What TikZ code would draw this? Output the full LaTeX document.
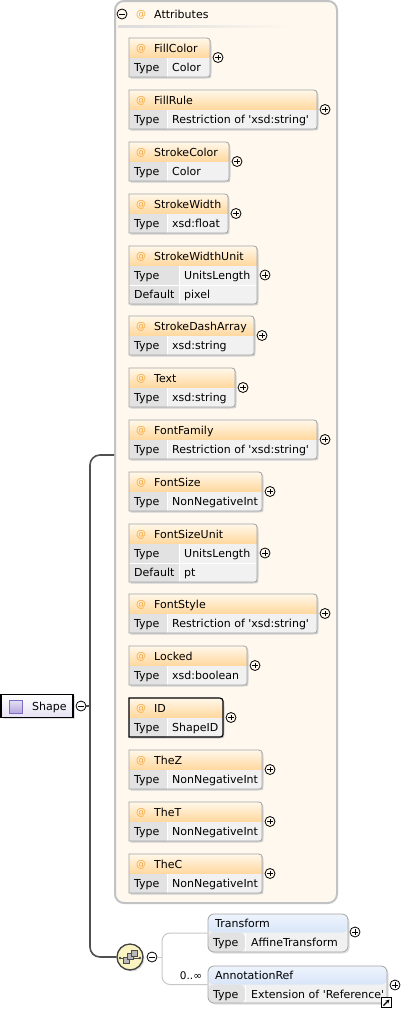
\documentclass[tikz,border=0pt]{standalone}
\usepackage{fontspec}
\setmainfont{DejaVu Sans}
\usetikzlibrary{calc,shadows,arrows.meta}

\definecolor{attrfill}{HTML}{FEF8EE}
\definecolor{attrline}{HTML}{C2C2C2}
\definecolor{hdtop}{HTML}{FFF8EA}
\definecolor{hdbot}{HTML}{FFD79C}
\definecolor{lblcell}{HTML}{E2E2E2}
\definecolor{valcell}{HTML}{F1F1F1}
\definecolor{boxline}{HTML}{A4A4A4}
\definecolor{atsign}{HTML}{F6A83C}
\definecolor{eltop}{HTML}{EEF4FD}
\definecolor{elbot}{HTML}{C2D6F3}
\definecolor{seqfill}{HTML}{FAF4C2}
\definecolor{spinecol}{HTML}{505050}
\definecolor{shapebot}{HTML}{E6E2F3}
\definecolor{shapesq}{HTML}{B4A4DE}
\definecolor{shapesqline}{HTML}{7E6CC0}

% one attribute box: [frame style]{name}{top}{right}{attribute}{type}{default}
\newcommand{\xsdattr}[7][attrframe]{%
  \def\attrh{39}\def\cellx{167}%
  \if\relax\detokenize{#7}\relax\else\def\attrh{58}\def\cellx{179}\fi
  \pgfmathsetmacro\attrb{#3+\attrh}%
  % shadow
  \fill[black!18, xshift=1.5pt, yshift=-1.5pt] (129,#3) -- ({#4-7},#3) .. controls (#4,#3) .. (#4,{#3+7})
    -- (#4,{\attrb-6}) .. controls (#4,\attrb) .. ({#4-6},\attrb) -- (129,\attrb) -- cycle;
  % header
  \shade[top color=hdtop, bottom color=hdbot] (129,#3) -- ({#4-7},#3) .. controls (#4,#3) .. (#4,{#3+7})
    -- (#4,{#3+20}) -- (129,{#3+20}) -- cycle;
  % type / default cells
  \fill[lblcell] (129,{#3+20}) rectangle (\cellx,\attrb);
  \fill[valcell] (\cellx,{#3+20}) -- (#4,{#3+20}) -- (#4,{\attrb-6}) .. controls (#4,\attrb) .. ({#4-6},\attrb)
    -- (\cellx,\attrb) -- cycle;
  \draw[white] (\cellx,{#3+20}) -- (\cellx,\attrb);
  \if\relax\detokenize{#7}\relax\else
    \draw[white] (129,{#3+39}) -- (#4,{#3+39});
  \fi
  % frame
  \draw[#1] (129,#3) -- ({#4-7},#3) .. controls (#4,#3) .. (#4,{#3+7})
    -- (#4,{\attrb-6}) .. controls (#4,\attrb) .. ({#4-6},\attrb) -- (129,\attrb) -- cycle;
  % texts
  \node[atsym] (#2-at) at (141,{#3+13.8}) {@};
  \node[attrtext] (#2) at (151,{#3+14}) {#5};
  \node[attrtext] (#2-type) at (131,{#3+33.5}) {Type};
  \node[attrtext] (#2-val) at ({\cellx+2},{#3+33.5}) {#6};
  \if\relax\detokenize{#7}\relax\else
    \node[attrtext] (#2-deflabel) at (131,{#3+52.5}) {Default};
    \node[attrtext] (#2-def) at ({\cellx+2},{#3+52.5}) {#7};
  \fi
  \node[plusbtn] (#2-plus) at ({#4+8},{#3+\attrh/2}) {};
}

\begin{document}
\begin{tikzpicture}[x=1pt, y=-1pt, font=\fontsize{11}{13}\selectfont,
  attrtext/.style={anchor=base west, inner sep=3pt},
  atsym/.style={anchor=base, inner sep=0pt, text=atsign, font=\fontsize{10}{12}\selectfont},
  attrframe/.style={draw=boxline, line width=0.8pt},
  idframe/.style={draw=black, line width=1.2pt},
  softshadow/.style={drop shadow={opacity=0.25, shadow xshift=1.5pt, shadow yshift=-1.5pt}},
  plusbtn/.style={circle, draw, line width=0.8pt, minimum size=10pt, inner sep=0pt,
    path picture={\draw[line width=0.8pt] ([xshift=-2.6pt]path picture bounding box.center) -- ([xshift=2.6pt]path picture bounding box.center);
      \draw[line width=0.8pt] ([yshift=-2.6pt]path picture bounding box.center) -- ([yshift=2.6pt]path picture bounding box.center);}},
  minusbtn/.style={circle, draw, line width=0.8pt, minimum size=10pt, inner sep=0pt,
    path picture={\draw[line width=0.8pt] ([xshift=-2.6pt]path picture bounding box.center) -- ([xshift=2.6pt]path picture bounding box.center);}},
  elembox/.style={draw=boxline, line width=0.8pt, rounded corners=6pt, inner sep=0pt, fill=valcell, softshadow,
    path picture={\shade[top color=eltop, bottom color=elbot] (path picture bounding box.north west) rectangle ([yshift=-18.5pt]path picture bounding box.north east);
      \fill[lblcell] ([yshift=-18.5pt]path picture bounding box.north west) rectangle ([xshift=37pt]path picture bounding box.south west);
      \draw[white] ([xshift=37pt,yshift=-18.5pt]path picture bounding box.north west) -- ([xshift=37pt]path picture bounding box.south west);}},
  spineline/.style={draw=spinecol, line width=1.6pt},
  bracketline/.style={draw=black!22, line width=1pt}]
\useasboundingbox (0,0) rectangle (403,1009);

% attributes group
\node[draw=attrline, line width=2pt, fill=attrfill, rounded corners=9pt, minimum width=222pt, minimum height=902pt, inner sep=0pt] (attrs) at (226,452) {};
\node[minusbtn] (attrs-minus) at (122,14) {};
\node[atsym] (attrs-at) at (141,17.8) {@};
\node[attrtext] (attrs-title) at (151,18) {Attributes};
\shade[left color=black!14, right color=attrfill] (118,25.5) rectangle (290,27.5);

\xsdattr{fillcolor}{38}{210}{FillColor}{Color}{}
\xsdattr{fillrule}{90}{317}{FillRule}{Restriction of \textquotesingle xsd:string\textquotesingle}{}
\xsdattr{strokecolor}{142}{229}{StrokeColor}{Color}{}
\xsdattr{strokewidth}{194}{228}{StrokeWidth}{xsd:float}{}
\xsdattr{strokewidthunit}{246}{257}{StrokeWidthUnit}{UnitsLength}{pixel}
\xsdattr{strokedasharray}{316}{254}{StrokeDashArray}{xsd:string}{}
\xsdattr{text}{368}{235}{Text}{xsd:string}{}
\xsdattr{fontfamily}{420}{317}{FontFamily}{Restriction of \textquotesingle xsd:string\textquotesingle}{}
\xsdattr{fontsize}{472}{262}{FontSize}{NonNegativeInt}{}
\xsdattr{fontsizeunit}{524}{257}{FontSizeUnit}{UnitsLength}{pt}
\xsdattr{fontstyle}{594}{317}{FontStyle}{Restriction of \textquotesingle xsd:string\textquotesingle}{}
\xsdattr{locked}{646}{247}{Locked}{xsd:boolean}{}
% required attribute
\xsdattr[idframe]{id}{698}{223}{ID}{ShapeID}{}
\xsdattr{thez}{750}{262}{TheZ}{NonNegativeInt}{}
\xsdattr{thet}{802}{262}{TheT}{NonNegativeInt}{}
\xsdattr{thec}{854}{262}{TheC}{NonNegativeInt}{}

% Shape element
\node[draw, line width=1.2pt, top color=white, bottom color=shapebot, minimum width=72pt, minimum height=23pt, inner sep=0pt, softshadow] (shape) at (37,706) {};
\node[draw=shapesqline, line width=0.6pt, top color=shapesq!35, bottom color=shapesq, minimum size=13pt, inner sep=0pt] (shape-icon) at (15.5,707) {};
\node[attrtext] (shape-label) at (29,710) {Shape};
\node[minusbtn] (shape-minus) at (81,706) {};
\coordinate (spine) at (90,706);

% sequence compositor
\node[circle, draw=black!75, line width=1.3pt, fill=seqfill, minimum size=26pt, inner sep=0pt, softshadow] (seq) at (130,957) {};
\draw[black!70, line width=0.8pt] ([shift={(-10,1)}]seq.center) -- ([shift={(10,1)}]seq.center);
\fill[black!70] ([shift={(-10,1)}]seq.center) circle (1.4pt) ([shift={(10,1)}]seq.center) circle (1.4pt);
\foreach \dx/\dy in {-4/3, 0/-0.5, 4/-4}
  \draw[black!70, fill=gray!55, line width=0.6pt] ([shift={(\dx-3,\dy-3)}]seq.center) rectangle ([shift={(\dx+3,\dy+3)}]seq.center);
\node[minusbtn] (seq-minus) at (152,957) {};
\coordinate (seq-fork) at (162,957);

% spine
\draw[spineline] (shape-minus) -- (spine);
\draw[spineline, rounded corners=10pt] (attrs.west |- 0,455) -| (spine) |- (seq);

% child elements
\node[elembox, minimum width=140pt, minimum height=38pt] (transform) at (278,933) {};
\node[attrtext] (transform-name) at (212,927) {Transform};
\node[attrtext] (transform-type) at (210,946) {Type};
\node[attrtext] (transform-val) at (248,946) {AffineTransform};
\node[plusbtn] (transform-plus) at (355,932) {};

\node[elembox, minimum width=179pt, minimum height=37pt] (annoref) at (297.5,984.5) {};
\node[attrtext] (annoref-name) at (212,979) {AnnotationRef};
\node[attrtext] (annoref-type) at (210,998) {Type};
\node[attrtext] (annoref-val) at (248,998) {Extension of \textquotesingle Reference\textquotesingle};
\node[plusbtn] (annoref-plus) at (395,985) {};
\node[font=\fontsize{10.5}{12}\selectfont, inner sep=1pt] (annoref-occurs) at (191,976) {0..∞};
\node[draw, line width=1pt, fill=white, minimum size=10pt, inner sep=0pt] (annoref-link) at (386.5,1002.5) {};
\draw[line width=1.1pt, -{Stealth[length=4pt,width=4pt]}] ([shift={(-3,3)}]annoref-link.center) -- ([shift={(3,-3)}]annoref-link.center);

% sequence bracket
\draw[bracketline] (seq-minus) -- (seq-fork);
\draw[bracketline, rounded corners=8pt] (transform) -| (seq-fork) |- (annoref);
\end{tikzpicture}
\end{document}
